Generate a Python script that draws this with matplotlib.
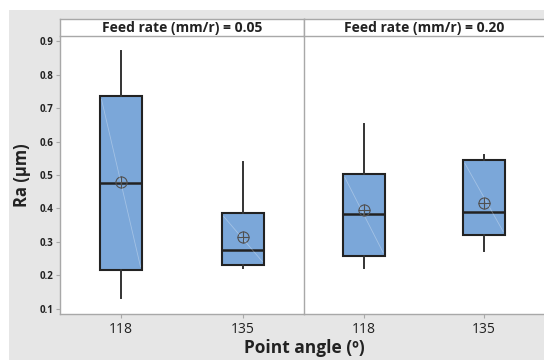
import matplotlib.pyplot as plt
from matplotlib.patches import Rectangle
from matplotlib.lines import Line2D

plt.rcParams['font.family'] = ['Open Sans', 'DejaVu Sans']

# summary values
feed_rates = ['0.05', '0.20']
angles = ['118', '135']
whisk_lo = [[0.133, 0.222], [0.222, 0.273]]
q1 = [[0.216, 0.231], [0.258, 0.321]]
medians = [[0.476, 0.276], [0.384, 0.390]]
q3 = [[0.736, 0.387], [0.503, 0.545]]
whisk_hi = [[0.870, 0.539], [0.652, 0.560]]
means = [[0.478, 0.315], [0.396, 0.416]]

W, H = 544, 360
fig = plt.figure(figsize=(W / 100, H / 100), dpi=100, facecolor='white')
fig.patches.append(Rectangle((9 / W, 0), 1, 350 / H, transform=fig.transFigure,
                             facecolor='#e6e6e6', edgecolor='none', zorder=-10))

box_col = '#7ba7d9'
grid_col = '#a8a8a8'
panels = [(60, 244), (304, 240)]
bottom, top, strip = 314, 36, 17

for i, (x0, w) in enumerate(panels):
    ax = fig.add_axes([x0 / W, (H - bottom) / H, w / W, (bottom - top) / H])
    stats = []
    for j in range(len(angles)):
        stats.append(dict(whislo=whisk_lo[i][j], q1=q1[i][j], med=medians[i][j],
                          q3=q3[i][j], whishi=whisk_hi[i][j], mean=means[i][j],
                          fliers=[]))
    ax.bxp(stats, positions=[1, 2], widths=0.345, patch_artist=True, showmeans=True,
           showcaps=False,
           boxprops=dict(facecolor=box_col, edgecolor='#222222', linewidth=1.5),
           medianprops=dict(color='#222222', linewidth=1.8),
           whiskerprops=dict(color='#333333', linewidth=1.4),
           meanprops=dict(marker='o', markersize=8, markeredgewidth=0.8,
                          markerfacecolor='none', markeredgecolor='#505050'))
    # cross inside the mean circle
    ax.plot([1, 2], means[i], linestyle='none', marker='+', markersize=8,
            markeredgewidth=0.8, color='#505050', zorder=4)
    # faint diagonal highlight inside each box
    for j in range(len(angles)):
        p = j + 1
        ax.add_line(Line2D([p - 0.16, p + 0.16], [q3[i][j] - 0.01, q1[i][j] + 0.01],
                           color='white', alpha=0.3, linewidth=0.6, zorder=3))
    ax.set_xlim(0.5, 2.5)
    ax.set_ylim(0.085, 0.915)
    ax.set_xticks([1, 2])
    ax.set_xticklabels(angles, fontsize=10, color='#222222')
    ax.tick_params(axis='x', length=3, color=grid_col, pad=3)
    for s in ['top', 'right']:
        ax.spines[s].set_visible(False)
    for s in ['left', 'bottom']:
        ax.spines[s].set_color(grid_col)
        ax.spines[s].set_linewidth(1.0)
    if i == 0:
        ax.set_yticks([0.1, 0.2, 0.3, 0.4, 0.5, 0.6, 0.7, 0.8, 0.9])
        ax.set_yticklabels(['0.1', '0.2', '0.3', '0.4', '0.5', '0.6', '0.7', '0.8', '0.9'],
                           fontsize=7, fontweight='bold', color='#222222')
        ax.tick_params(axis='y', length=3, color=grid_col, pad=2)
        ax.set_ylabel('Ra (µm)', fontsize=12, fontweight='bold', color='#222222', labelpad=6)
    else:
        ax.set_yticks([])
    # header strip
    hx = fig.add_axes([x0 / W, (H - top) / H, w / W, strip / H])
    hx.set_xticks([])
    hx.set_yticks([])
    hx.set_facecolor('white')
    for s in hx.spines.values():
        s.set_color(grid_col)
        s.set_linewidth(1.0)
    hx.spines['right'].set_visible(i == 0)
    hx.text(0.5, 0.45, 'Feed rate (mm/r) = ' + feed_rates[i], transform=hx.transAxes,
            ha='center', va='center', fontsize=10, fontweight='bold', color='#222222')

fig.text(304 / W, 1 - 348 / H, 'Point angle (º)', ha='center', va='center',
         fontsize=12.5, fontweight='bold', color='#222222')

fig.savefig('out.png', dpi=100, facecolor=fig.get_facecolor())
